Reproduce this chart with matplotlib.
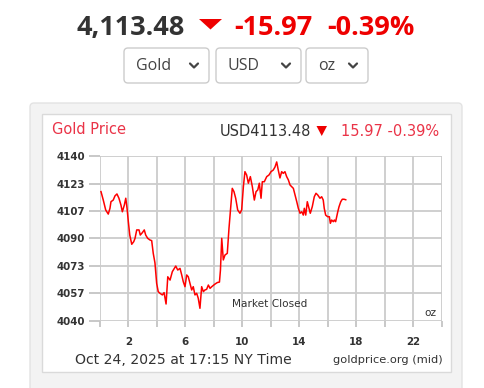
import matplotlib
matplotlib.use("Agg")
import matplotlib.pyplot as plt
from matplotlib.patches import Rectangle, FancyBboxPatch, Polygon
import numpy as np

# ---------------- data ----------------
hours = [0.07, 0.23, 0.40, 0.58, 0.70, 0.77, 0.93, 1.05, 1.19, 1.33, 1.47, 1.57, 1.71, 1.81, 1.90,
         1.99, 2.09, 2.23, 2.37, 2.46, 2.58, 2.74, 2.83, 2.97, 3.11, 3.21, 3.35, 3.51, 3.63, 3.74,
         3.86, 3.98, 4.09, 4.21, 4.38, 4.50, 4.64, 4.76, 4.92, 5.08, 5.32, 5.46, 5.62, 5.74, 5.85,
         5.97, 6.09, 6.20, 6.32, 6.44, 6.55, 6.67, 6.79, 6.90, 7.02, 7.14, 7.26, 7.37, 7.49, 7.61,
         7.73, 7.85, 8.08, 8.24, 8.39, 8.46, 8.55, 8.66, 8.78, 8.94, 9.06, 9.20, 9.29, 9.41, 9.53,
         9.67, 9.83, 9.95, 10.07, 10.18, 10.30, 10.42, 10.56, 10.70, 10.84, 10.96, 11.08, 11.19, 11.31, 11.40,
         11.54, 11.71, 11.87, 12.01, 12.17, 12.29, 12.41, 12.52, 12.64, 12.76, 12.87, 12.99, 13.11, 13.23, 13.35,
         13.46, 13.58, 13.70, 13.82, 13.93, 14.05, 14.17, 14.28, 14.35, 14.45, 14.56, 14.68, 14.77, 14.91, 15.05,
         15.17, 15.29, 15.45, 15.57, 15.68, 15.75, 15.85, 15.99, 16.11, 16.18, 16.27, 16.39, 16.46, 16.55, 16.70,
         16.79, 16.91, 17.02, 17.14, 17.26]
prices = [4118.4, 4113.3, 4107.3, 4104.8, 4108.3, 4112.3, 4113.3, 4115.8, 4117.0, 4114.4, 4110.3, 4106.2, 4110.3, 4114.4, 4108.3,
          4100.2, 4092.1, 4086.5, 4088.1, 4090.1, 4095.2, 4095.2, 4092.1, 4093.5, 4095.2, 4092.1, 4090.1, 4089.1, 4088.7, 4081.0,
          4075.2, 4062.8, 4057.8, 4056.8, 4055.8, 4057.2, 4050.3, 4066.8, 4064.8, 4069.9, 4073.3, 4070.9, 4071.9, 4067.9, 4063.8,
          4060.8, 4067.9, 4066.8, 4062.8, 4058.8, 4060.8, 4055.8, 4056.8, 4053.8, 4047.7, 4060.8, 4057.8, 4058.8, 4059.2, 4061.8,
          4059.8, 4060.8, 4062.4, 4063.3, 4063.6, 4070.9, 4090.1, 4077.0, 4080.0, 4081.0, 4096.2, 4111.3, 4120.4, 4118.4, 4114.4,
          4107.3, 4105.3, 4107.3, 4121.4, 4130.5, 4128.5, 4123.5, 4127.5, 4121.4, 4113.3, 4118.4, 4119.4, 4123.5, 4114.4, 4124.4,
          4124.4, 4127.5, 4128.5, 4130.5, 4131.5, 4133.3, 4136.4, 4131.5, 4126.7, 4130.5, 4129.5, 4130.5, 4127.5, 4125.5, 4122.4,
          4121.4, 4120.4, 4116.4, 4112.3, 4108.3, 4105.3, 4106.2, 4104.2, 4108.3, 4104.2, 4112.3, 4108.3, 4105.3, 4109.3, 4115.3,
          4117.4, 4116.4, 4114.4, 4115.3, 4113.3, 4108.3, 4104.2, 4103.2, 4103.2, 4099.2, 4101.2, 4100.2, 4101.2, 4100.2, 4106.2,
          4109.3, 4112.3, 4113.8, 4113.8, 4113.48]

y_ticks = [4040, 4056.667, 4073.333, 4090, 4106.667, 4123.333, 4140]
y_labels = ["4040", "4057", "4073", "4090", "4107", "4123", "4140"]
x_ticks = list(range(0, 25, 2))
x_labels = ["" if h % 4 == 0 else str(h) for h in x_ticks]

price_text = "4,113.48"
change_text = "-15.97"
pct_text = "-0.39%"
selects = ["Gold", "USD", "oz"]

RED = "#ee0000"
PINK = "#ea3347"
DARK = "#333333"

# ---------------- figure ----------------
W, H = 485, 388
fig = plt.figure(figsize=(W / 100, H / 100), dpi=100)
fig.patch.set_facecolor("white")

bg = fig.add_axes([0, 0, 1, 1], zorder=0)
bg.set_xlim(0, W)
bg.set_ylim(H, 0)
bg.axis("off")

# outer grey panel and inner white card
bg.add_patch(FancyBboxPatch((30, 103), 432, 300, boxstyle="round,pad=0,rounding_size=4",
                            facecolor="#f3f3f3", edgecolor="#e3e3e3", lw=1))
bg.add_patch(Rectangle((41.7, 114.3), 409, 258, facecolor="white", edgecolor="#dadada", lw=1))

# header
hf = dict(family=["Open Sans", "DejaVu Sans"], fontsize=19.5, fontweight="bold", va="center")
bg.text(77, 28, price_text, color=DARK, ha="left", **hf)
bg.add_patch(Polygon([(199, 19), (222, 19), (210.5, 29.5)], closed=True, facecolor=RED, edgecolor="none"))
bg.text(234, 28, change_text, color=RED, ha="left", **hf)
bg.text(327, 28, pct_text, color=RED, ha="left", **hf)

# dropdowns
boxes = [(124, 85), (216, 85), (306, 62)]
for (x0, w), lab in zip(boxes, selects):
    bg.add_patch(FancyBboxPatch((x0, 48), w, 35, boxstyle="round,pad=0,rounding_size=4",
                                facecolor="white", edgecolor="#cccccc", lw=1))
    bg.text(x0 + 12, 66, lab, color="#444444", fontsize=11.5, ha="left", va="center",
            family=["Open Sans", "DejaVu Sans"])
    cx = x0 + w - 15
    bg.plot([cx - 4, cx, cx + 4], [63.5, 67.5, 63.5], color="#444444", lw=1.6,
            solid_capstyle="round", solid_joinstyle="round")

# chart header
bg.text(52, 129, "Gold Price", color=PINK, fontsize=10.5, ha="left", va="center")
bg.text(311, 131, "USD4113.48", color="#333333", fontsize=10.5, ha="right", va="center")
bg.add_patch(Polygon([(316.5, 126), (327, 126), (321.75, 136)], closed=True, facecolor=RED, edgecolor="none"))
bg.text(439, 131, "15.97 -0.39%", color=PINK, fontsize=10.5, ha="right", va="center")

# footer
bg.text(75, 360, "Oct 24, 2025 at 17:15 NY Time", color="#333333", fontsize=10.1, ha="left", va="center")
bg.text(443, 360, "goldprice.org (mid)", color="#333333", fontsize=8.2, ha="right", va="center")

# ---------------- chart ----------------
L, R, T, B = 100, 441.7, 156, 321
ax = fig.add_axes([L / W, 1 - B / H, (R - L) / W, (B - T) / H], zorder=1)
ax.set_facecolor("white")
ax.plot(hours, prices, color="#ff0000", lw=1.1, zorder=3)
ax.set_xlim(0, 24)
ax.set_ylim(4040, 4140)
ax.set_yticks(y_ticks)
ax.set_yticklabels(y_labels)
ax.set_xticks(x_ticks)
ax.set_xticklabels(x_labels)
ax.grid(True, color="#cccccc", lw=1.3)
for s in ax.spines.values():
    s.set_visible(False)
ax.tick_params(axis="both", colors="#c4c4c4", width=1.3, labelcolor="#333333", labelsize=7.4)
ax.tick_params(axis="y", length=8, pad=3)
ax.tick_params(axis="x", length=4.5, pad=7)
for lbl in ax.get_xticklabels() + ax.get_yticklabels():
    lbl.set_fontweight("bold")
ax.text(0.385, 0.105, "Market Closed", transform=ax.transAxes, fontsize=7.6, color="#333333",
        ha="left", va="center")
ax.text(0.985, 0.05, "oz", transform=ax.transAxes, fontsize=7.6, color="#333333",
        ha="right", va="center")

fig.savefig("out.png", dpi=100)
